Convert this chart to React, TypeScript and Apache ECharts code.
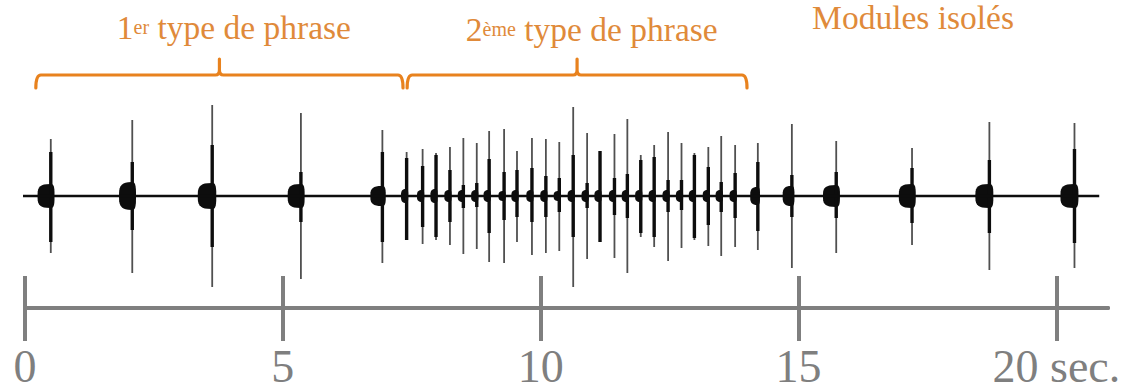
import { useEffect, useRef } from 'react';
import * as echarts from 'echarts';

// ---- data (time in seconds, amplitude in relative units) ----
const pulseTimes = [
  0.5, 2.08, 3.63, 5.35, 6.93,
  7.4, 7.71, 7.97, 8.24, 8.5, 8.76, 9.0, 9.29, 9.54, 9.83, 10.1, 10.36, 10.63, 10.9, 11.15,
  11.43, 11.68, 11.94, 12.2, 12.47, 12.73, 12.98, 13.25, 13.5, 13.77,
  14.21, 14.87, 15.73, 17.2, 18.7, 20.35,
];
const spikeUp = [
  0.57, 0.76, 0.91, 0.83, 0.66,
  0.44, 0.47, 0.43, 0.49, 0.58, 0.53, 0.65, 0.67, 0.45, 0.58, 0.57, 0.54, 0.89, 0.63, 0.45,
  0.62, 0.77, 0.41, 0.51, 0.64, 0.53, 0.43, 0.49, 0.6, 0.51,
  0.53, 0.72, 0.55, 0.48, 0.74, 0.73,
];
const spikeDown = [
  0.57, 0.77, 0.91, 0.83, 0.67,
  0.44, 0.48, 0.44, 0.49, 0.58, 0.53, 0.66, 0.67, 0.46, 0.59, 0.57, 0.55, 0.91, 0.63, 0.46,
  0.62, 0.77, 0.41, 0.51, 0.65, 0.52, 0.44, 0.5, 0.6, 0.51,
  0.54, 0.72, 0.57, 0.49, 0.74, 0.72,
];
const coreUp = [
  0.44, 0.34, 0.51, 0.24, 0.44,
  0.38, 0.3, 0.41, 0.26, 0.11, 0.13, 0.37, 0.24, 0.26, 0.28, 0.2, 0.18, 0.41, 0.13, 0.45,
  0.18, 0.22, 0.36, 0.39, 0.16, 0.16, 0.41, 0.29, 0.14, 0.23,
  0.34, 0.21, 0.24, 0.28, 0.36, 0.47,
];
const coreDown = [
  0.46, 0.34, 0.51, 0.26, 0.46,
  0.44, 0.31, 0.41, 0.26, 0.12, 0.11, 0.37, 0.24, 0.21, 0.26, 0.21, 0.16, 0.41, 0.12, 0.46,
  0.19, 0.22, 0.37, 0.41, 0.16, 0.14, 0.42, 0.29, 0.16, 0.22,
  0.35, 0.21, 0.22, 0.27, 0.37, 0.47,
];
const blobAmp = [
  0.12, 0.14, 0.13, 0.12, 0.1,
  0.07, 0.06, 0.07, 0.06, 0.06, 0.06, 0.06, 0.05, 0.06, 0.06, 0.06, 0.05, 0.06, 0.06, 0.06,
  0.06, 0.06, 0.06, 0.06, 0.06, 0.06, 0.06, 0.06, 0.06, 0.06,
  0.09, 0.1, 0.11, 0.12, 0.12, 0.12,
];
const blobDur = [
  0.33, 0.33, 0.36, 0.33, 0.3,
  0.14, 0.14, 0.14, 0.14, 0.14, 0.14, 0.14, 0.14, 0.14, 0.14, 0.14, 0.14, 0.14, 0.14, 0.14,
  0.14, 0.14, 0.14, 0.14, 0.14, 0.14, 0.14, 0.14, 0.14, 0.14,
  0.19, 0.23, 0.33, 0.33, 0.35, 0.35,
];
const baselineSpan = [-0.04, 20.83];

const bracketStart = [0.21, 7.41];
const bracketEnd = [7.33, 14.0];

const labelTimes = [4.05, 10.99, 17.22];
const labelMain = ['1', '2', 'Modules isolés'];
const labelSup = ['er', 'ème', ''];
const labelRest = [' type de phrase', ' type de phrase', ''];

const xTicks = [0, 5, 10, 15, 20];
const xTickLabels = ['0', '5', '10', '15', '20 sec.'];

// ---- styles ----
const ORANGE_LINE = '#E8821E';
const ORANGE_TEXT = '#E08A3A';
const GRAY = '#7f7f7f';
const INK = '#0d0d0d';
const SERIF = "'Liberation Serif', 'DejaVu Serif', serif";
const LABEL_Y = [27, 29, 17];

export default function App() {
  const ref = useRef<HTMLDivElement>(null);

  useEffect(() => {
    const chart = echarts.init(ref.current!, null, { renderer: 'svg' });

    const pulseData = pulseTimes.map((t, i) => [
      t, spikeUp[i], spikeDown[i], coreUp[i], coreDown[i], blobAmp[i], blobDur[i],
    ]);
    const bracketData = bracketStart.map((s, i) => [s, bracketEnd[i]]);
    const labelData = labelTimes.map((t, i) => [t, i]);

    const option: any = {
      animation: false,
      textStyle: { fontFamily: SERIF },
      grid: { left: 25, right: 16, top: 84, bottom: 82, outerBoundsMode: 'none' },
      xAxis: [
        {
          type: 'value', min: 0, max: 21, position: 'bottom',
          axisLine: { onZero: false, lineStyle: { color: GRAY, width: 4 } },
          axisTick: { customValues: xTicks, length: 33, lineStyle: { color: GRAY, width: 4 } },
          axisLabel: {
            customValues: xTicks,
            formatter: (v: number) => xTickLabels[xTicks.indexOf(v)] ?? '',
            color: GRAY, fontSize: 46, fontFamily: SERIF, margin: 35,
          },
          splitLine: { show: false },
        },
        {
          type: 'value', min: 0, max: 21, position: 'bottom',
          axisLine: { onZero: false, lineStyle: { color: GRAY, width: 4 } },
          axisTick: { inside: true, customValues: xTicks, length: 32, lineStyle: { color: GRAY, width: 4 } },
          axisLabel: { show: false },
          splitLine: { show: false },
        },
      ],
      yAxis: { type: 'value', min: -1.12, max: 1.12, show: false },
      series: [
        {
          type: 'line',
          data: baselineSpan.map((t) => [t, 0]),
          symbol: 'none',
          clip: false,
          lineStyle: { color: INK, width: 2.6 },
          silent: true,
        },
        {
          type: 'custom',
          data: pulseData,
          encode: { x: 0, y: 1 },
          clip: false,
          renderItem: (_p: any, api: any) => {
            const t = api.value(0);
            const su = api.value(1), sd = api.value(2);
            const cu = api.value(3), cd = api.value(4);
            const ba = api.value(5), bd = api.value(6);
            const pts: number[][] = [];
            const N = 32;
            for (let k = 0; k < N; k++) {
              const th = (2 * Math.PI * k) / N;
              const c = Math.cos(th), s = Math.sin(th);
              const w = c >= 0 ? 0.22 * bd : 0.78 * bd;
              const dx = Math.sign(c) * Math.pow(Math.abs(c), 0.7) * w;
              const dy = Math.sign(s) * Math.pow(Math.abs(s), 0.6) * ba;
              pts.push(api.coord([t + dx, dy]));
            }
            const top = api.coord([t, su]), bot = api.coord([t, -sd]);
            const ctop = api.coord([t, cu]), cbot = api.coord([t, -cd]);
            return {
              type: 'group',
              children: [
                { type: 'polygon', shape: { points: pts }, style: { fill: INK } },
                { type: 'line', shape: { x1: top[0], y1: top[1], x2: bot[0], y2: bot[1] }, style: { stroke: '#505050', lineWidth: 1.8 } },
                { type: 'line', shape: { x1: ctop[0], y1: ctop[1], x2: cbot[0], y2: cbot[1] }, style: { stroke: INK, lineWidth: 3.4 } },
              ],
            };
          },
        },
        {
          type: 'custom',
          data: bracketData,
          encode: { x: [0, 1] },
          clip: false,
          renderItem: (p: any, api: any) => {
            const x1 = api.coord([api.value(0), 0])[0];
            const x2 = api.coord([api.value(1), 0])[0];
            const gridTop = p.coordSys.y;
            const yl = gridTop - 9, ye = yl + 13, yn = yl - 16, m = (x1 + x2) / 2, r = 5;
            const d = `M${x1} ${ye} Q${x1} ${yl} ${x1 + r} ${yl} L${m - 4} ${yl} Q${m} ${yl} ${m} ${yl - 5} L${m} ${yn} M${m} ${yl - 5} Q${m} ${yl} ${m + 4} ${yl} L${x2 - r} ${yl} Q${x2} ${yl} ${x2} ${ye}`;
            return {
              type: 'path',
              shape: { pathData: d },
              style: { stroke: ORANGE_LINE, lineWidth: 3.2, fill: null, lineCap: 'round' },
            };
          },
        },
        {
          type: 'custom',
          data: labelData,
          encode: { x: 0 },
          clip: false,
          renderItem: (_p: any, api: any) => {
            const i = api.value(1);
            const x = api.coord([api.value(0), 0])[0];
            let text = `{n|${labelMain[i]}}`;
            if (labelSup[i]) text += `{s|${labelSup[i]}}`;
            if (labelRest[i]) text += `{n|${labelRest[i]}}`;
            return {
              type: 'text',
              x,
              y: LABEL_Y[i],
              style: {
                text,
                fill: ORANGE_TEXT,
                align: 'center',
                verticalAlign: 'middle',
                fontFamily: SERIF,
                fontSize: 33.5,
                rich: {
                  n: { fontSize: 33.5, fontFamily: SERIF, fill: ORANGE_TEXT, color: ORANGE_TEXT, verticalAlign: 'middle' },
                  s: { fontSize: 20, fontFamily: SERIF, fill: ORANGE_TEXT, color: ORANGE_TEXT, verticalAlign: 'middle' },
                },
              },
            };
          },
        },
      ],
    };

    chart.setOption(option);
    return () => chart.dispose();
  }, []);

  return (
    <div
      ref={ref}
      style={{ position: 'absolute', left: 0, top: 0, width: 1124, height: 390, background: '#fff' }}
    />
  );
}
